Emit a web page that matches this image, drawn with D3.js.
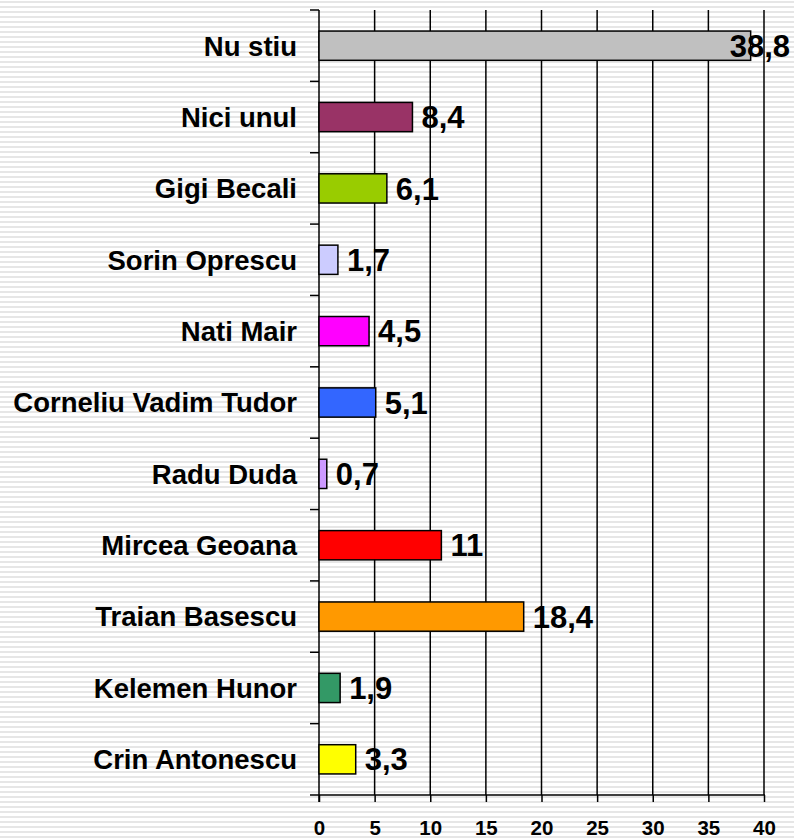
<!DOCTYPE html>
<html>
<head>
<meta charset="utf-8">
<script src="https://cdn.jsdelivr.net/npm/d3@7"></script>
<style>
    body { margin: 0; background: #fff; }
    svg { display: block; }
    .cat { font-family: "Liberation Sans", Arial, sans-serif; font-weight: bold; font-size: 27.5px; fill: #000; }
    .val { font-family: "Liberation Sans", Arial, sans-serif; font-weight: bold; font-size: 31px; fill: #000; }
    .tick text { font-family: "Liberation Sans", Arial, sans-serif; font-weight: bold; font-size: 20.5px; fill: #000; }
</style>
</head>
<body>
<svg width="794" height="839"></svg>
<script>
window.onload = main;

// date, de sus in jos
var categories = ["Nu stiu", "Nici unul", "Gigi Becali", "Sorin Oprescu", "Nati Mair",
    "Corneliu Vadim Tudor", "Radu Duda", "Mircea Geoana", "Traian Basescu",
    "Kelemen Hunor", "Crin Antonescu"];
var values = [38.8, 8.4, 6.1, 1.7, 4.5, 5.1, 0.7, 11, 18.4, 1.9, 3.3];
var valueLabels = ["38,8", "8,4", "6,1", "1,7", "4,5", "5,1", "0,7", "11", "18,4", "1,9", "3,3"];
var colors = ["#c0c0c0", "#993366", "#99cc00", "#ccccff", "#ff00ff",
    "#3366ff", "#cc99ff", "#ff0000", "#ff9900", "#339966", "#ffff00"];
var xTicks = [0, 5, 10, 15, 20, 25, 30, 35, 40];

function main() {
    var svg = d3.select("svg");
    var width = 794, height = 839;

    var left = 319, right = 764, top = 10, bottom = 795;

    // fundal cu dungi orizontale
    var defs = svg.append("defs");
    var pat = defs.append("pattern")
        .attr("id", "stripes")
        .attr("patternUnits", "userSpaceOnUse")
        .attr("width", 10)
        .attr("height", 5);
    pat.append("rect").attr("width", 10).attr("height", 5).attr("fill", "#fff");
    pat.append("rect").attr("y", 1).attr("width", 10).attr("height", 2).attr("fill", "#e6e6e6");

    svg.append("rect")
        .attr("width", width)
        .attr("height", height)
        .attr("fill", "url(#stripes)");

    var x = d3.scaleLinear().domain([0, 40]).range([left, right]);
    var y = d3.scaleBand()
        .domain(categories)
        .range([top, bottom])
        .paddingInner(0.59)
        .paddingOuter(0.295);

    // linii verticale de grila
    svg.append("g")
        .selectAll("line")
        .data(xTicks.slice(1))
        .enter()
        .append("line")
        .attr("x1", (d) => x(d))
        .attr("x2", (d) => x(d))
        .attr("y1", top)
        .attr("y2", bottom)
        .style("stroke", "#000")
        .style("stroke-width", 1.5);

    // axa de jos
    var xAxis = d3.axisBottom(x)
        .tickValues(xTicks)
        .tickSize(7)
        .tickSizeOuter(0)
        .tickPadding(18);
    var gx = svg.append("g")
        .attr("transform", "translate(0," + bottom + ")")
        .call(xAxis);
    gx.select(".domain").remove();
    gx.selectAll(".tick line").style("stroke", "#000").style("stroke-width", 1.5);
    gx.append("line")
        .attr("x1", left - 9)
        .attr("x2", right + 1)
        .style("stroke", "#000")
        .style("stroke-width", 1.5);

    // axa din stanga, cu semne intre categorii
    var step = y.step();
    var boundaries = d3.range(categories.length).map((i) => top + i * step);
    svg.append("line")
        .attr("x1", left)
        .attr("x2", left)
        .attr("y1", top)
        .attr("y2", bottom + 7)
        .style("stroke", "#000")
        .style("stroke-width", 1.5);
    svg.append("g")
        .selectAll("line")
        .data(boundaries)
        .enter()
        .append("line")
        .attr("x1", left - 9)
        .attr("x2", left)
        .attr("y1", (d) => d)
        .attr("y2", (d) => d)
        .style("stroke", "#000")
        .style("stroke-width", 1.5);

    // etichete categorii
    svg.append("g")
        .selectAll("text")
        .data(categories)
        .enter()
        .append("text")
        .attr("class", "cat")
        .attr("x", left - 22)
        .attr("y", (d) => y(d) + y.bandwidth() / 2)
        .attr("dy", "0.36em")
        .attr("text-anchor", "end")
        .text((d) => d);

    // bare
    svg.append("g")
        .selectAll("rect")
        .data(values)
        .enter()
        .append("rect")
        .attr("x", x(0))
        .attr("y", (d, i) => y(categories[i]))
        .attr("width", (d) => x(d) - x(0))
        .attr("height", y.bandwidth())
        .attr("fill", (d, i) => colors[i])
        .style("stroke", "#000")
        .style("stroke-width", 1.5);

    // valori
    svg.append("g")
        .selectAll("text")
        .data(values)
        .enter()
        .append("text")
        .attr("class", "val")
        .attr("y", (d, i) => y(categories[i]) + y.bandwidth() / 2)
        .attr("dy", "0.36em")
        .text((d, i) => valueLabels[i])
        .attr("x", function (d) {
            var w = this.getComputedTextLength();
            var pos = x(d) + 9;
            if (pos + w > width - 4) pos = width - 4 - w; // nu iese din imagine
            return pos;
        });
}
</script>
</body>
</html>
